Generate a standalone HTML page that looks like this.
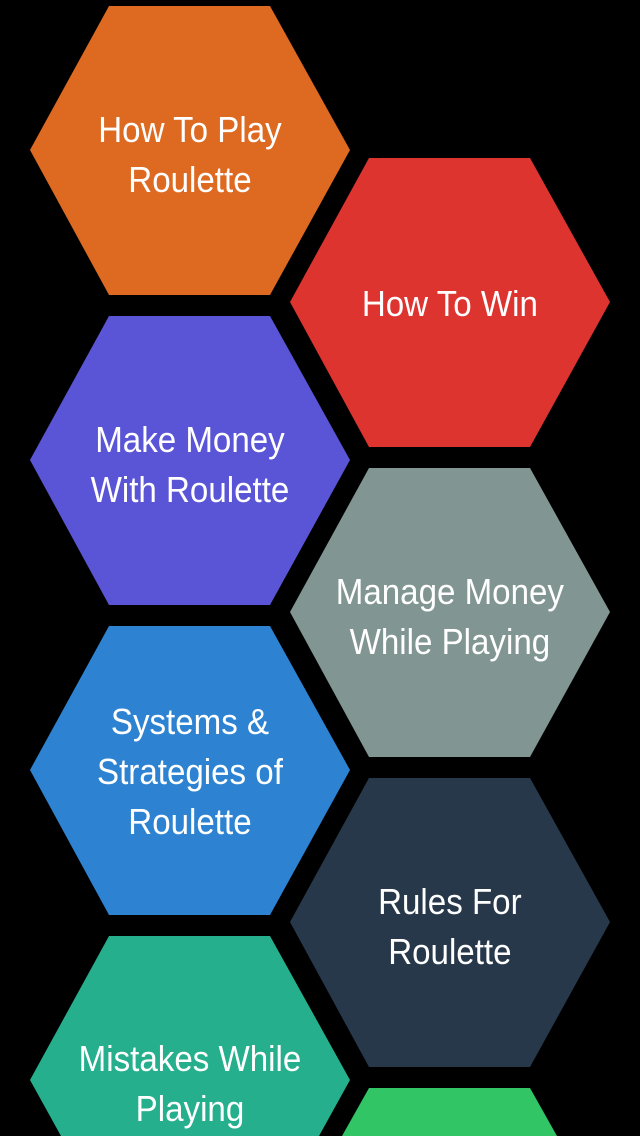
<!DOCTYPE html>
<html><head><style>
html,body{margin:0;background:#000;width:640px;height:1136px;overflow:hidden}
svg{display:block}
text{font-family:"Liberation Sans","DejaVu Sans",sans-serif;font-size:36px;fill:#fff;text-anchor:middle}
</style></head><body>
<svg width="640" height="1136" viewBox="0 0 640 1136">
<polygon points="109,6 270,6 350,150 270,295 109,295 30,150" fill="#de6a21"/>
<polygon points="109,316 270,316 350,460 270,605 109,605 30,460" fill="#5a55d6"/>
<polygon points="109,626 270,626 350,770 270,915 109,915 30,770" fill="#2d83d2"/>
<polygon points="109,936 270,936 350,1080 319,1136 61,1136 30,1080" fill="#25af8d"/>
<polygon points="369,158 530,158 610,302 530,447 369,447 290,302" fill="#dd3430"/>
<polygon points="369,468 530,468 610,612 530,757 369,757 290,612" fill="#819593"/>
<polygon points="369,778 530,778 610,922 530,1067 369,1067 290,922" fill="#27384b"/>
<polygon points="369,1088 530,1088 557,1136 342,1136" fill="#32c566"/>
<g transform="scale(0.92,1)">
<text x="206.5" y="142">How To Play</text>
<text x="206.5" y="192">Roulette</text>
<text x="489" y="316">How To Win</text>
<text x="206.5" y="452">Make Money</text>
<text x="206.5" y="502">With Roulette</text>
<text x="489" y="604">Manage Money</text>
<text x="489" y="654">While Playing</text>
<text x="206.5" y="734">Systems &amp;</text>
<text x="206.5" y="784">Strategies of</text>
<text x="206.5" y="834">Roulette</text>
<text x="489" y="914">Rules For</text>
<text x="489" y="964">Roulette</text>
<text x="206.5" y="1071">Mistakes While</text>
<text x="206.5" y="1121">Playing</text>
</g>
</svg>
</body></html>
